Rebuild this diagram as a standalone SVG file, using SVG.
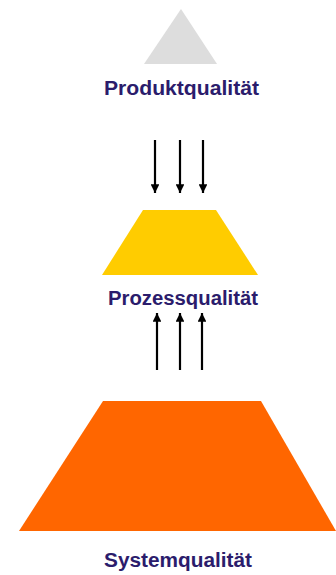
<svg xmlns="http://www.w3.org/2000/svg" width="336" height="575" viewBox="0 0 336 575">
<defs>
<style>
.lbl{font-family:"Liberation Sans",Arial,sans-serif;font-weight:bold;font-size:20px;fill:#2B1C6C;text-anchor:middle}
.arr{stroke:#000;stroke-width:2.2;fill:none}
</style>
<marker id="ah" viewBox="0 0 10 10" refX="10" refY="5" markerWidth="4" markerHeight="4" orient="auto" markerUnits="strokeWidth">
<path d="M0,0 L10,5 L0,10 Z" fill="#000"/>
</marker>
</defs>
<rect width="336" height="575" fill="#fff"/>
<g id="produkt">
<polygon points="181,9 144,64 217,64" fill="#DDDDDD"/>
<text class="lbl" x="181.5" y="95" textLength="155" lengthAdjust="spacingAndGlyphs">Produktqualität</text>
</g>
<g id="prozess">
<polygon points="143,210 216,210 258,275 102,275" fill="#FFCC00"/>
<text class="lbl" x="183" y="305" textLength="150" lengthAdjust="spacingAndGlyphs">Prozessqualität</text>
</g>
<g id="system">
<polygon points="103,401 261,401 336,531 19,531" fill="#FF6600"/>
<text class="lbl" x="178" y="567" textLength="148" lengthAdjust="spacingAndGlyphs">Systemqualität</text>
</g>
<g id="connectors">
<line class="arr" x1="155" y1="140" x2="155" y2="193" marker-end="url(#ah)"/>
<line class="arr" x1="180" y1="140" x2="180" y2="193" marker-end="url(#ah)"/>
<line class="arr" x1="203" y1="140" x2="203" y2="193" marker-end="url(#ah)"/>
<line class="arr" x1="157" y1="370" x2="157" y2="313" marker-end="url(#ah)"/>
<line class="arr" x1="180" y1="370" x2="180" y2="313" marker-end="url(#ah)"/>
<line class="arr" x1="202" y1="370" x2="202" y2="313" marker-end="url(#ah)"/>
</g>
</svg>
